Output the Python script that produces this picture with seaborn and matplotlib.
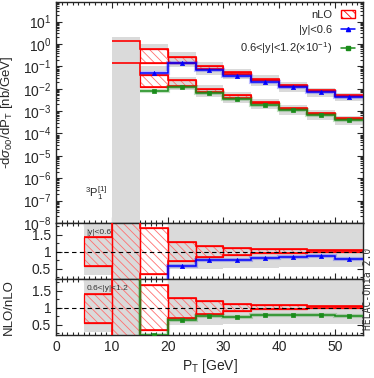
import numpy as np
import pandas as pd
import seaborn as sns
import matplotlib.pyplot as plt
from matplotlib.patches import Patch
from matplotlib.lines import Line2D
from matplotlib.ticker import MultipleLocator, LogLocator, NullFormatter, FormatStrFormatter

sns.set_style('ticks')
plt.rcParams['font.family'] = ['Liberation Sans', 'DejaVu Sans']
plt.rcParams['mathtext.fontset'] = 'custom'
plt.rcParams['mathtext.rm'] = 'Liberation Sans'
plt.rcParams['mathtext.it'] = 'Liberation Sans:italic'
plt.rcParams['hatch.linewidth'] = 0.6

nan = np.nan

# bins (GeV)
edges_main = [10, 15, 20, 25, 30, 35, 40, 45, 50, 55]
edges_ratio = [5, 10, 15, 20, 25, 30, 35, 40, 45, 50, 55]

# main panel, |y|<0.6  [nb/GeV]
nlo_up_a = [1.4, 0.6, 0.254, 0.105, 0.055, 0.027, 0.0145, 0.0084, 0.0052]
nlo_lo_a = [nan, 0.14, 0.142, 0.076, 0.045, 0.0245, 0.0129, 0.0078, 0.0048]
NLO_a = [nan, 0.052, 0.137, 0.069, 0.036, 0.021, 0.0118, 0.0071, 0.0044]
gray_up_a = [2.1, 1.0, 0.45, 0.152, 0.078, 0.039, 0.0196, 0.0107, 0.0062]
gray_lo_a = [1e-9, 0.62, 0.098, 0.042, 0.026, 0.0133, 0.0073, 0.0044, 0.0027]

# main panel, 0.6<|y|<1.2 (x 0.1)
nlo_up_b = [0.137, 0.039, 0.0234, 0.010, 0.0050, 0.0025, 0.00138, 0.00080, 0.00049]
nlo_lo_b = [nan, 0.0118, 0.0128, 0.0069, 0.0040, 0.00223, 0.00125, 0.00074, 0.00046]
NLO_b = [nan, 0.0076, 0.0118, 0.0064, 0.0033, 0.0019, 0.0011, 0.00065, 0.0004]
gray_up_b = [nan, 0.1, 0.035, 0.014, 0.0071, 0.0036, 0.0019, 0.0011, 0.00063]
gray_lo_b = [nan, 0.062, 0.0087, 0.0042, 0.0024, 0.0012, 0.00068, 0.0004, 0.00025]

# ratio panels NLO/nLO
r_up_a = [1.43, 3.0, 1.69, 1.29, 1.16, 1.11, 1.07, 1.09, 1.06, 1.06]
r_lo_a = [0.57, -1.0, 0.36, 0.72, 0.84, 0.91, 0.95, 0.97, 0.98, 0.98]
r_nlo_a = [nan, nan, 0.15, 0.59, 0.76, 0.75, 0.81, 0.85, 0.86, 0.79]
r_gup_a = [3.0, 3.0, nan, 3.0, 3.0, 3.0, 3.0, 3.0, 3.0, 3.0]
r_glo_a = [0.32, -1.0, nan, 0.50, 0.48, 0.52, 0.53, 0.55, 0.55, 0.55]

r_up_b = [1.41, 3.0, 1.66, 1.29, 1.19, 1.12, 1.09, 1.07, 1.05, 1.05]
r_lo_b = [0.55, -1.0, 0.36, 0.71, 0.82, 0.89, 0.97, 0.97, 0.98, 0.98]
r_nlo_b = [nan, 3.0, 0.19, 0.63, 0.75, 0.72, 0.79, 0.78, 0.78, 0.77]
r_gup_b = [3.0, 3.0, nan, 3.0, 3.0, 3.0, 3.0, 3.0, 3.0, 3.0]
r_glo_b = [0.30, -1.0, nan, 0.48, 0.48, 0.53, 0.53, 0.53, 0.53, 0.53]

RED = '#ff0000'
HATCH = '#ff7070'
GRAY = '#dadada'
BLUE = '#0000ff'
GREEN = '#1a8c1a'


def gray_band(ax, edges, lo, up):
    lo = np.array(lo); up = np.array(up)
    ax.bar(edges[:-1], up - lo, bottom=lo, width=5, align='edge',
           color=GRAY, lw=0, zorder=1)


def nlo_band(ax, edges, lo, up):
    lo = np.array(lo); up = np.array(up)
    ax.bar(edges[:-1], up - lo, bottom=lo, width=5, align='edge',
           facecolor='none', edgecolor=HATCH, hatch='\\\\\\\\', lw=0, zorder=2)
    ax.bar(edges[:-1], up - lo, bottom=lo, width=5, align='edge',
           facecolor='none', edgecolor=RED, lw=0.9, zorder=3)
    ax.stairs(up, edges, baseline=None, color=RED, lw=1.2, zorder=3)
    ax.stairs(lo, edges, baseline=None, color=RED, lw=1.2, zorder=3)


def nlo_line(ax, edges, vals, color, marker, ms):
    ax.stairs(vals, edges, baseline=None, color=color, lw=3, alpha=0.25, zorder=4)
    ax.stairs(vals, edges, baseline=None, color=color, lw=1.1, zorder=5)
    cen = np.array(edges[:-1]) + 2.5
    df = pd.DataFrame({'pt': cen, 'v': vals}).dropna()
    sns.scatterplot(data=df, x='pt', y='v', ax=ax, color=color, marker=marker,
                    s=ms, edgecolor=color, linewidth=0.5, zorder=6, legend=False)


def style(ax):
    ax.set_xlim(0, 55)
    ax.xaxis.set_major_locator(MultipleLocator(10))
    ax.xaxis.set_minor_locator(MultipleLocator(1))
    ax.tick_params(which='both', direction='in', top=True, right=True,
                   labelsize=10, width=0.8)
    ax.tick_params(which='major', length=4)
    ax.tick_params(which='minor', length=2)
    for s in ax.spines.values():
        s.set_linewidth(1.0)
    ax.set_xlabel('')
    ax.set_ylabel('')


fig = plt.figure(figsize=(3.74, 3.78), dpi=100)
ax1 = fig.add_axes([56 / 374, 155 / 378, 307 / 374, 221 / 378])
ax2 = fig.add_axes([56 / 374, 99 / 378, 307 / 374, 56 / 378])
ax3 = fig.add_axes([56 / 374, 43 / 378, 307 / 374, 56 / 378])

# main panel
ax1.set_yscale('log')
gray_band(ax1, edges_main, gray_lo_a, gray_up_a)
gray_band(ax1, edges_main, gray_lo_b, gray_up_b)
nlo_band(ax1, edges_main, nlo_lo_a, nlo_up_a)
nlo_band(ax1, edges_main, nlo_lo_b, nlo_up_b)
nlo_line(ax1, edges_main, NLO_a, BLUE, '^', 9)
nlo_line(ax1, edges_main, NLO_b, GREEN, 's', 6)
style(ax1)
ax1.set_ylim(1e-8, 75)
ax1.yaxis.set_major_locator(LogLocator(base=10, numticks=20))
ax1.yaxis.set_minor_locator(LogLocator(base=10, subs=np.arange(2, 10), numticks=20))
ax1.yaxis.set_minor_formatter(NullFormatter())
ax1.tick_params(labelbottom=False)
ax1.set_ylabel(r'-d$\sigma_{00}$/dP$_{\mathrm{T}}$ [nb/GeV]', fontsize=9.5)
ax1.text(7.2, 2.2e-7, r'$^{3}$P$_{1}^{[1]}$', fontsize=8, ha='center', va='center')

handles = [Patch(facecolor='white', edgecolor=RED, hatch='\\\\\\\\', lw=1),
           Line2D([], [], color=BLUE, marker='^', ms=3, lw=1.1),
           Line2D([], [], color=GREEN, marker='s', ms=2.5, lw=1.1)]
labels = ['nLO', '|y|<0.6', r'0.6<|y|<1.2($\times$10$^{-1}$)']
ax1.legend(handles, labels, loc='upper right', frameon=False, markerfirst=False,
           fontsize=8, handlelength=1.3, handletextpad=0.8, labelspacing=0.45,
           borderaxespad=0.3)

# ratio panels
for ax, up, lo, nl, gup, glo, col, mk, ms, lab in [
        (ax2, r_up_a, r_lo_a, r_nlo_a, r_gup_a, r_glo_a, BLUE, '^', 9, '|y|<0.6'),
        (ax3, r_up_b, r_lo_b, r_nlo_b, r_gup_b, r_glo_b, GREEN, 's', 6, '0.6<|y|<1.2')]:
    gray_band(ax, edges_ratio, glo, gup)
    nlo_band(ax, edges_ratio, lo, up)
    ax.axhline(1, color='black', ls=(0, (4, 3)), lw=0.8, zorder=4.5)
    nlo_line(ax, edges_ratio, nl, col, mk, ms)
    style(ax)
    ax.set_ylim(0.2, 1.84)
    ax.yaxis.set_major_locator(MultipleLocator(0.5))
    ax.yaxis.set_minor_locator(MultipleLocator(0.25))
    ax.yaxis.set_major_formatter(FormatStrFormatter('%g'))
    ax.text(5.5, 1.57, lab, fontsize=6, ha='left', va='center', color='#333333')

ax2.tick_params(labelbottom=False)
ax3.set_ylabel('NLO/nLO', fontsize=9.5)
ax3.set_xlabel(r'P$_{\mathrm{T}}$ [GeV]', fontsize=10, labelpad=2)
ax1.yaxis.set_label_coords(-0.135, 0.5)
ax3.yaxis.set_label_coords(-0.135, 0.5)

fig.text(0.985, 0.235, 'HELAC-Onia 2.0', rotation=90, ha='center', va='center',
         fontsize=7, family='DejaVu Sans Mono', color='#333333')

fig.savefig('out.png', dpi=100)
